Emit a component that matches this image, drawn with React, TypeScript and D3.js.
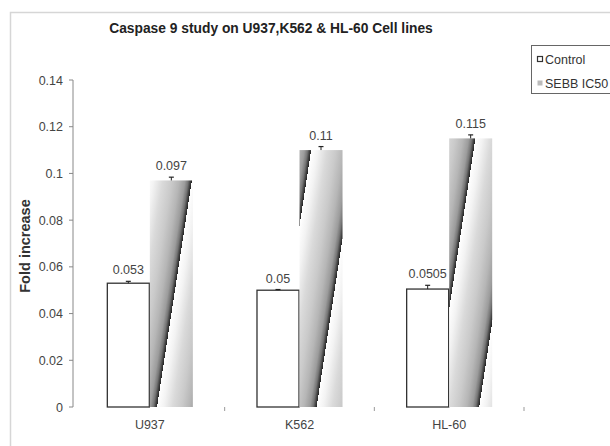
import React from "react";
import * as d3 from "d3";

const categories = ["U937", "K562", "HL-60"];
const seriesNames = ["Control", "SEBB IC50"];
const controlValues = [0.053, 0.05, 0.0505];
const sebbValues = [0.097, 0.11, 0.115];
const controlErrors = [0.0008, 0.0003, 0.0016];
const sebbErrors = [0.0014, 0.0015, 0.0015];
const valueLabels = [
  ["0.053", "0.097"],
  ["0.05", "0.11"],
  ["0.0505", "0.115"],
];
const yTicks = [0, 0.02, 0.04, 0.06, 0.08, 0.1, 0.12, 0.14];
const yTickLabels = ["0", "0.02", "0.04", "0.06", "0.08", "0.1", "0.12", "0.14"];

const FONT = "'Liberation Sans', Arial, sans-serif";

export default function App() {
  const W = 610;
  const H = 446;
  const y = d3.scaleLinear().domain([0, 0.14]).range([407, 80]);
  const x0 = d3.scaleBand<string>().domain(categories).range([75, 524]).padding(0);
  const x1 = d3
    .scaleBand<string>()
    .domain(seriesNames)
    .range([0, x0.bandwidth()])
    .paddingInner(0)
    .paddingOuter(0.74);
  const axisX = 73;

  const series = [controlValues, sebbValues];
  const errors = [controlErrors, sebbErrors];

  const stops: [number, string][] = [
    [0, "#ffffff"],
    [0.15, "#f3f3f3"],
    [0.35, "#dadada"],
    [0.55, "#cacaca"],
    [0.72, "#b6b6b6"],
    [0.85, "#9c9c9c"],
    [0.92, "#767676"],
    [0.97, "#404040"],
    [1, "#262626"],
  ];
  // stripe geometry (direction of the slanted streaks, per pixel)
  const nLen = Math.hypot(78, 12);
  const nx = 78 / nLen;
  const ny = 12 / nLen;

  return (
    <svg width={W} height={H} style={{ position: "absolute", left: 0, top: 0, background: "#fff" }}>
      <defs>
        {categories.map((c, ci) => {
          const bx = (x0(c) as number) + (x1(seriesNames[1]) as number);
          const bw = x1.bandwidth();
          const top = y(sebbValues[ci]);
          const perp = (bw + 2) * nx;
          const sx = bx + 12;
          return (
            <linearGradient
              key={c}
              id={`twist${ci}`}
              gradientUnits="userSpaceOnUse"
              x1={sx}
              y1={top}
              x2={sx + perp * nx}
              y2={top + perp * ny}
              spreadMethod="repeat"
            >
              {stops.map(([o, col], i) => (
                <stop key={i} offset={o} stopColor={col} />
              ))}
            </linearGradient>
          );
        })}
      </defs>
      <rect x={0} y={0} width={W} height={H} fill="#fff" />
      <rect x={10.5} y={12.5} width={700} height={500} fill="none" stroke="#d6d6d6" strokeWidth={1.5} />

      <text
        x={271}
        y={33}
        textAnchor="middle"
        fontFamily={FONT}
        fontSize={13.8}
        fontWeight="bold"
        fill="#222"
      >
        Caspase 9 study on U937,K562 &amp; HL-60 Cell lines
      </text>

      {/* Y axis */}
      <line x1={axisX} x2={axisX} y1={y(0.14)} y2={y(0)} stroke="#888" strokeWidth={1} />
      {yTicks.map((t, i) => (
        <g key={i}>
          <line x1={axisX - 4} x2={axisX} y1={y(t)} y2={y(t)} stroke="#888" strokeWidth={1} />
          <text
            x={63}
            y={y(t) + 4.5}
            textAnchor="end"
            fontFamily={FONT}
            fontSize={12.5}
            fill="#444"
          >
            {yTickLabels[i]}
          </text>
        </g>
      ))}
      <text
        transform={`translate(30,246) rotate(-90)`}
        textAnchor="middle"
        fontFamily={FONT}
        fontSize={14.5}
        fontWeight="bold"
        fill="#333"
      >
        Fold increase
      </text>

      {/* X ticks & labels */}
      {categories.map((c) => (
        <g key={c}>
          <line
            x1={(x0(c) as number) + x0.bandwidth()}
            x2={(x0(c) as number) + x0.bandwidth()}
            y1={407}
            y2={411}
            stroke="#999"
          />
          <text
            x={(x0(c) as number) + x0.bandwidth() / 2}
            y={429}
            textAnchor="middle"
            fontFamily={FONT}
            fontSize={12.5}
            fill="#444"
          >
            {c}
          </text>
        </g>
      ))}

      {/* Bars */}
      {categories.map((c, ci) => (
        <g key={c} transform={`translate(${x0(c)},0)`}>
          {seriesNames.map((s, si) => {
            const v = series[si][ci];
            const e = errors[si][ci];
            const bx = x1(s) as number;
            const bw = x1.bandwidth();
            const cx = bx + bw / 2;
            return (
              <g key={s}>
                {si === 0 ? (
                  <rect
                    x={bx + 0.5}
                    y={y(v)}
                    width={bw - 1}
                    height={y(0) - y(v)}
                    fill="#fff"
                    stroke="#333"
                    strokeWidth={1.3}
                  />
                ) : (
                  <rect x={bx} y={y(v)} width={bw} height={y(0) - y(v)} fill={`url(#twist${ci})`} />
                )}
                <line x1={cx} x2={cx} y1={y(v)} y2={y(v + e)} stroke="#222" strokeWidth={1} />
                <line x1={cx - 2.5} x2={cx + 2.5} y1={y(v + e)} y2={y(v + e)} stroke="#222" strokeWidth={1.2} />
                <text
                  x={cx}
                  y={y(v + e) - 7}
                  textAnchor="middle"
                  fontFamily={FONT}
                  fontSize={12.5}
                  fill="#444"
                >
                  {valueLabels[ci][si]}
                </text>
              </g>
            );
          })}
        </g>
      ))}

      {/* Legend */}
      <rect x={531.5} y={45.5} width={100} height={48} fill="#fff" stroke="#666" strokeWidth={1} />
      <rect x={537.5} y={56.5} width={5} height={5} fill="#fff" stroke="#333" strokeWidth={1.2} />
      <text x={545} y={63.5} fontFamily={FONT} fontSize={12.5} fill="#333">
        {seriesNames[0]}
      </text>
      <rect x={537.5} y={80.5} width={5} height={5} fill="#bbb" stroke="none" />
      <text x={545} y={87.5} fontFamily={FONT} fontSize={12.5} fill="#333">
        {seriesNames[1]}
      </text>
    </svg>
  );
}
